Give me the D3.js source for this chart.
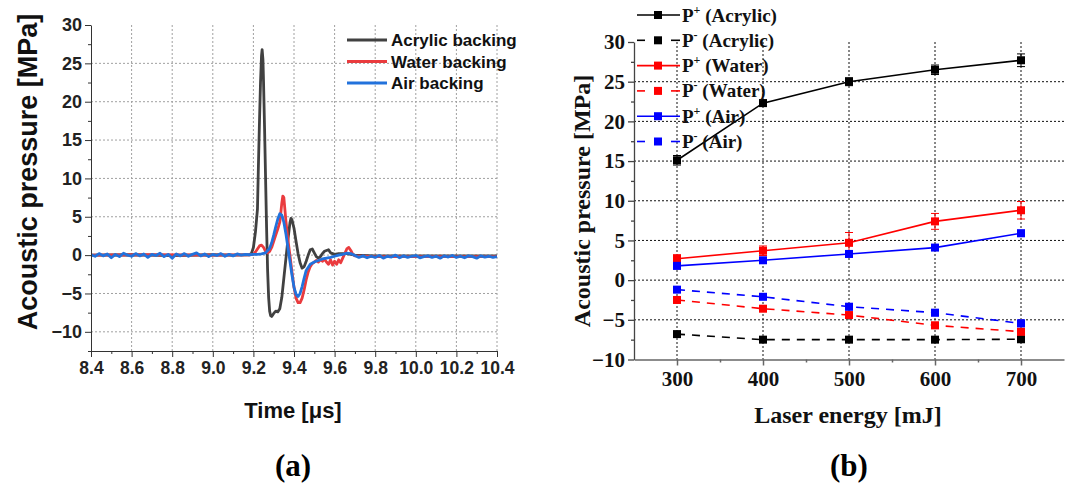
<!DOCTYPE html>
<html>
<head>
<meta charset="utf-8">
<script src="https://cdn.jsdelivr.net/npm/d3@7"></script>
<style>
  body { margin: 0; background: #fff; }
  svg { display: block; }
</style>
</head>
<body>
<svg id="fig" width="1065" height="484"></svg>
<script>
// ---------- (a) waveforms: [time (µs), pressure (MPa)] ----------
const acrylicWave = [
  [8.40, 0.0], [8.60, 0.05], [8.80, -0.05], [9.00, 0.05], [9.10, 0.0], [9.18, 0.05],
  [9.19, 0.2], [9.20, 1.0], [9.21, 3.0], [9.22, 6.0], [9.225, 12.0], [9.23, 17.5],
  [9.235, 22.5], [9.24, 26.0], [9.243, 26.8], [9.247, 25.5], [9.25, 22.5], [9.255, 16.5],
  [9.26, 10.0], [9.265, 3.5], [9.27, -2.0], [9.275, -5.5], [9.28, -7.3], [9.285, -7.9],
  [9.29, -8.0], [9.30, -7.6], [9.31, -7.3], [9.32, -7.4], [9.33, -7.0], [9.34, -5.5],
  [9.35, -3.0], [9.36, -0.5], [9.37, 2.0], [9.38, 4.2], [9.385, 4.8], [9.39, 4.6],
  [9.40, 3.5], [9.41, 1.8], [9.42, 0.2], [9.43, -1.0], [9.44, -1.7], [9.45, -1.5],
  [9.46, -0.8], [9.47, 0.0], [9.48, 0.7], [9.49, 0.8], [9.50, 0.3], [9.51, -0.2],
  [9.52, -0.4], [9.53, -0.2], [9.54, 0.2], [9.55, 0.5], [9.56, 0.6], [9.57, 0.7],
  [9.58, 0.3], [9.60, 0.1], [9.62, 0.2], [9.66, 0.2], [9.70, 0.0], [9.80, -0.1],
  [10.00, -0.1], [10.20, -0.1], [10.40, -0.1]
];

const waterWave = [
  [8.40, 0.0], [8.70, 0.05], [9.00, 0.0], [9.18, 0.05], [9.20, 0.1], [9.21, 0.4],
  [9.22, 0.8], [9.23, 1.2], [9.24, 1.3], [9.25, 1.0], [9.26, 0.5], [9.27, 0.3],
  [9.28, 0.5], [9.29, 1.0], [9.30, 1.8], [9.31, 2.6], [9.32, 3.4], [9.33, 4.3],
  [9.335, 5.5], [9.34, 6.8], [9.345, 7.7], [9.35, 7.5], [9.355, 6.0], [9.36, 4.5],
  [9.37, 2.0], [9.38, 0.0], [9.39, -2.2], [9.40, -4.2], [9.41, -5.6], [9.42, -6.2],
  [9.43, -6.2], [9.44, -5.6], [9.45, -4.5], [9.46, -3.2], [9.47, -2.2], [9.48, -1.5],
  [9.49, -1.1], [9.50, -0.9], [9.51, -0.7], [9.52, -0.9], [9.53, -0.6], [9.54, -0.8],
  [9.55, -0.5], [9.56, -0.9], [9.57, -1.2], [9.58, -0.6], [9.59, -1.3], [9.60, -0.8],
  [9.61, -1.2], [9.62, -0.6], [9.63, -1.0], [9.64, -0.4], [9.65, 0.2], [9.66, 0.8],
  [9.67, 1.0], [9.68, 0.6], [9.69, 0.1], [9.70, -0.1], [9.80, -0.2], [10.00, -0.2],
  [10.40, -0.2]
];

const airWave = [
  [8.40, 0.05], [8.42, -0.15], [8.44, 0.2], [8.46, -0.1], [8.48, 0.15], [8.50, -0.35],
  [8.52, 0.1], [8.54, -0.2], [8.56, 0.25], [8.58, 0.0], [8.60, -0.15], [8.62, 0.2],
  [8.64, -0.1], [8.66, 0.15], [8.68, -0.3], [8.70, 0.1], [8.72, -0.05], [8.74, 0.25],
  [8.76, -0.2], [8.78, 0.1], [8.80, -0.4], [8.82, 0.15], [8.84, -0.1], [8.86, 0.2],
  [8.88, -0.15], [8.90, 0.1], [8.92, 0.3], [8.94, -0.1], [8.96, 0.15], [8.98, -0.2],
  [9.00, 0.1], [9.02, -0.05], [9.04, 0.2], [9.06, -0.15], [9.08, 0.1], [9.10, -0.1],
  [9.12, 0.15], [9.14, 0.0], [9.16, 0.1], [9.18, 0.05], [9.20, 0.1], [9.22, 0.1],
  [9.24, 0.15], [9.26, 0.3], [9.28, 0.9], [9.29, 1.6], [9.30, 2.6], [9.31, 3.7],
  [9.32, 4.7], [9.33, 5.4], [9.34, 5.2], [9.35, 4.3], [9.36, 2.8], [9.37, 1.0],
  [9.38, -0.8], [9.39, -2.6], [9.40, -4.2], [9.41, -5.1], [9.42, -5.4], [9.43, -5.0],
  [9.44, -4.1], [9.45, -3.0], [9.46, -2.0], [9.48, -1.2], [9.50, -0.9], [9.52, -0.7],
  [9.54, -0.5], [9.56, -0.4], [9.58, -0.3], [9.60, -0.15], [9.62, 0.0], [9.64, 0.1],
  [9.66, 0.25], [9.68, 0.2], [9.70, -0.05], [9.72, -0.3], [9.74, -0.1], [9.76, -0.35],
  [9.78, -0.15], [9.80, -0.3], [9.82, -0.05], [9.84, -0.4], [9.86, -0.15], [9.88, -0.25],
  [9.90, 0.0], [9.92, -0.35], [9.94, -0.1], [9.96, -0.3], [9.98, -0.15], [10.00, -0.05],
  [10.02, -0.35], [10.04, -0.2], [10.06, -0.1], [10.08, -0.3], [10.10, -0.15], [10.12, -0.4],
  [10.14, -0.1], [10.16, -0.25], [10.18, -0.05], [10.20, -0.3], [10.22, -0.15], [10.24, -0.35],
  [10.26, -0.1], [10.28, -0.2], [10.30, -0.4], [10.32, -0.1], [10.34, -0.25], [10.36, -0.15],
  [10.38, -0.3], [10.40, -0.2]
];

const waveNames = ["Acrylic backing", "Water backing", "Air backing"];
const timeTicks = [8.4, 8.6, 8.8, 9.0, 9.2, 9.4, 9.6, 9.8, 10.0, 10.2, 10.4];
const pressureTicksA = [-10, -5, 0, 5, 10, 15, 20, 25, 30];

// ---------- (b) peak pressures vs laser energy ----------
const energy = [300, 400, 500, 600, 700];
const pPosAcrylic = [15.1, 22.3, 25.0, 26.5, 27.7];
const pNegAcrylic = [-6.8, -7.5, -7.5, -7.5, -7.45];
const pPosWater = [2.7, 3.7, 4.7, 7.4, 8.8];
const pNegWater = [-2.5, -3.6, -4.4, -5.7, -6.5];
const pPosAir = [1.8, 2.5, 3.3, 4.1, 5.9];
const pNegAir = [-1.2, -2.1, -3.35, -4.1, -5.45];

const errPosAcrylic = [0.6, 0.4, 0.5, 0.6, 0.8];
const errNegAcrylic = [0.3, 0.3, 0.3, 0.3, 0.4];
const errPosWater = [0.5, 0.6, 1.3, 1.0, 1.1];
const errNegWater = [0.3, 0.3, 0.3, 0.4, 0.4];
const errPosAir = [0.4, 0.3, 0.4, 0.3, 0.4];
const errNegAir = [0.3, 0.3, 0.4, 0.4, 0.4];

const energyTicks = [300, 400, 500, 600, 700];
const pressureTicksB = [-10, -5, 0, 5, 10, 15, 20, 25, 30];

const SANS = "'Liberation Sans', Arial, sans-serif";
const SERIF = "'Liberation Serif', 'Times New Roman', serif";

const svg = d3.select("#fig");

// ================= panel (a) =================
const A = { l: 91, r: 497, t: 25, b: 351 };
const xa = d3.scaleLinear().domain([8.4, 10.4]).range([A.l, A.r]);
const ya = d3.scaleLinear().domain([-12.5, 30]).range([A.b, A.t]);
const gA = svg.append("g");

// dotted grid
gA.append("g").selectAll("line").data(timeTicks.slice(1)).join("line")
  .attr("x1", d => xa(d)).attr("x2", d => xa(d))
  .attr("y1", A.t).attr("y2", A.b)
  .attr("stroke", "#a0a0a0").attr("stroke-width", 1).attr("stroke-dasharray", "2,2");
gA.append("g").selectAll("line").data(pressureTicksA.filter(d => d < 30)).join("line")
  .attr("x1", A.l).attr("x2", A.r)
  .attr("y1", d => ya(d)).attr("y2", d => ya(d))
  .attr("stroke", "#a0a0a0").attr("stroke-width", 1).attr("stroke-dasharray", "2,2");

// waveforms
const lineA = d3.line().x(d => xa(d[0])).y(d => ya(d[1]));
const waveSeries = [
  { data: acrylicWave, color: "#414141" },
  { data: waterWave, color: "#ea3b3e" },
  { data: airWave, color: "#2272dc" }
];
gA.append("g").selectAll("path").data(waveSeries).join("path")
  .attr("d", d => lineA(d.data))
  .attr("fill", "none").attr("stroke", d => d.color)
  .attr("stroke-width", 2.8).attr("stroke-linejoin", "round");

// axes
function styleAxis(g, color, width) {
  g.select(".domain").attr("stroke", color).attr("stroke-width", width);
  g.selectAll(".tick line").attr("stroke", color).attr("stroke-width", width);
}
const axA_y = gA.append("g").attr("transform", `translate(${A.l},0)`)
  .call(d3.axisLeft(ya).tickValues(pressureTicksA).tickSize(6).tickSizeOuter(0).tickPadding(3).tickFormat(d3.format("d")));
axA_y.append("g").call(d3.axisLeft(ya).tickValues(d3.range(-12.5, 30, 2.5).filter(v => v % 5 !== 0)).tickSize(3).tickFormat(""))
  .select(".domain").remove();
styleAxis(axA_y, "#333", 1);
axA_y.selectAll("text").attr("font-family", SANS).attr("font-weight", "bold").attr("font-size", 18).attr("fill", "#222");

const axA_x = gA.append("g").attr("transform", `translate(0,${A.b})`)
  .call(d3.axisBottom(xa).tickValues(timeTicks).tickSize(6).tickSizeOuter(0).tickPadding(5).tickFormat(d3.format(".1f")));
axA_x.append("g").call(d3.axisBottom(xa).tickValues(d3.range(8.5, 10.4, 0.2)).tickSize(3).tickFormat(""))
  .select(".domain").remove();
styleAxis(axA_x, "#333", 1);
axA_x.selectAll("text").attr("font-family", SANS).attr("font-weight", "bold").attr("font-size", 17.5).attr("fill", "#222");

// titles
gA.append("text").attr("transform", "translate(37,172) rotate(-90)")
  .attr("text-anchor", "middle").attr("font-family", SANS).attr("font-weight", "bold")
  .attr("font-size", 27).attr("fill", "#111").text("Acoustic pressure [MPa]");
gA.append("text").attr("x", 293).attr("y", 418).attr("text-anchor", "middle")
  .attr("font-family", SANS).attr("font-weight", "bold").attr("font-size", 22).attr("fill", "#111")
  .text("Time [\u03bcs]");
gA.append("text").attr("x", 293).attr("y", 476).attr("text-anchor", "middle")
  .attr("font-family", SERIF).attr("font-weight", "bold").attr("font-size", 31).attr("fill", "#000")
  .text("(a)");

// legend
const legA = gA.append("g").selectAll("g").data(waveSeries).join("g")
  .attr("transform", (d, i) => `translate(347,${40 + i * 21.5})`);
legA.append("line").attr("x1", 0).attr("x2", 40).attr("stroke", d => d.color).attr("stroke-width", 2.8);
legA.append("text").attr("x", 44).attr("dy", "0.36em")
  .attr("font-family", SANS).attr("font-weight", "bold").attr("font-size", 17).attr("fill", "#111")
  .text((d, i) => waveNames[i]);

// ================= panel (b) =================
const B = { l: 634, r: 1064, t: 42, b: 359.5 };
const xb = d3.scaleLinear().domain([250, 750]).range([B.l, B.r]);
const yb = d3.scaleLinear().domain([-10, 30]).range([B.b, B.t]);
const gB = svg.append("g");

gB.append("g").selectAll("line").data(energyTicks).join("line")
  .attr("x1", d => xb(d)).attr("x2", d => xb(d)).attr("y1", B.t).attr("y2", B.b)
  .attr("stroke", "#111").attr("stroke-width", 1).attr("stroke-dasharray", "2,2");
gB.append("g").selectAll("line").data(pressureTicksB.filter(d => d > -10 && d < 30)).join("line")
  .attr("x1", B.l).attr("x2", B.r).attr("y1", d => yb(d)).attr("y2", d => yb(d))
  .attr("stroke", "#111").attr("stroke-width", 1).attr("stroke-dasharray", "2,2");

const seriesB = [
  { label: "+", name: " (Acrylic)", vals: pPosAcrylic, err: errPosAcrylic, color: "#000000", dashed: false },
  { label: "-", name: " (Acrylic)", vals: pNegAcrylic, err: errNegAcrylic, color: "#000000", dashed: true },
  { label: "+", name: " (Water)", vals: pPosWater, err: errPosWater, color: "#ff0000", dashed: false },
  { label: "-", name: " (Water)", vals: pNegWater, err: errNegWater, color: "#ff0000", dashed: true },
  { label: "+", name: " (Air)", vals: pPosAir, err: errPosAir, color: "#0000ff", dashed: false },
  { label: "-", name: " (Air)", vals: pNegAir, err: errNegAir, color: "#0000ff", dashed: true }
];

const lineB = d3.line().x(d => xb(d.e)).y(d => yb(d.v));
const sG = gB.append("g").selectAll("g").data(seriesB).join("g");
sG.append("path")
  .attr("d", s => lineB(energy.map((e, i) => ({ e, v: s.vals[i] }))))
  .attr("fill", "none").attr("stroke", s => s.color).attr("stroke-width", 1.6)
  .attr("stroke-dasharray", s => s.dashed ? "8,7" : null);
// error bars and square markers
sG.each(function (s) {
  const g = d3.select(this);
  const pts = energy.map((e, i) => ({ e, v: s.vals[i], err: s.err[i] }));
  g.selectAll("line.eb").data(pts).join("line").attr("class", "eb")
    .attr("x1", d => xb(d.e)).attr("x2", d => xb(d.e))
    .attr("y1", d => yb(d.v - d.err)).attr("y2", d => yb(d.v + d.err))
    .attr("stroke", s.color).attr("stroke-width", 1);
  g.selectAll("line.cap").data(pts.flatMap(p => [p.v - p.err, p.v + p.err].map(v => ({ e: p.e, v }))))
    .join("line").attr("class", "cap")
    .attr("x1", d => xb(d.e) - 4).attr("x2", d => xb(d.e) + 4)
    .attr("y1", d => yb(d.v)).attr("y2", d => yb(d.v))
    .attr("stroke", s.color).attr("stroke-width", 1);
  g.selectAll("rect").data(pts).join("rect")
    .attr("x", d => xb(d.e) - 4).attr("y", d => yb(d.v) - 4)
    .attr("width", 8).attr("height", 8).attr("fill", s.color);
});

// axes
const axB_y = gB.append("g").attr("transform", `translate(${B.l},0)`)
  .call(d3.axisLeft(yb).tickValues(pressureTicksB).tickSize(6).tickSizeOuter(0).tickPadding(3).tickFormat(d3.format("d")));
axB_y.append("g").call(d3.axisLeft(yb).tickValues(d3.range(-7.5, 30, 5)).tickSize(3).tickFormat(""))
  .select(".domain").remove();
styleAxis(axB_y, "#444", 1.3);
axB_y.selectAll("text").attr("font-family", SERIF).attr("font-weight", "bold").attr("font-size", 21).attr("fill", "#111");

const axB_x = gB.append("g").attr("transform", `translate(0,${B.b})`)
  .call(d3.axisBottom(xb).tickValues(energyTicks).tickSize(6).tickSizeOuter(0).tickPadding(6).tickFormat(d3.format("d")));
axB_x.append("g").call(d3.axisBottom(xb).tickValues([350, 450, 550, 650]).tickSize(3).tickFormat(""))
  .select(".domain").remove();
styleAxis(axB_x, "#666", 1.5);
axB_x.selectAll("text").attr("font-family", SERIF).attr("font-weight", "bold").attr("font-size", 21).attr("fill", "#111");

gB.append("text").attr("transform", "translate(590,201) rotate(-90)")
  .attr("text-anchor", "middle").attr("font-family", SERIF).attr("font-weight", "bold")
  .attr("font-size", 24).attr("fill", "#111").text("Acoustic pressure [MPa]");
gB.append("text").attr("x", 848).attr("y", 423).attr("text-anchor", "middle")
  .attr("font-family", SERIF).attr("font-weight", "bold").attr("font-size", 24).attr("fill", "#111")
  .text("Laser energy [mJ]");
gB.append("text").attr("x", 849).attr("y", 476).attr("text-anchor", "middle")
  .attr("font-family", SERIF).attr("font-weight", "bold").attr("font-size", 31).attr("fill", "#000")
  .text("(b)");

// legend
const legB = gB.append("g").selectAll("g").data(seriesB).join("g")
  .attr("transform", (d, i) => `translate(637,${15 + i * 25.3})`);
legB.each(function (s) {
  const g = d3.select(this);
  if (s.dashed) {
    g.append("line").attr("x1", 0).attr("x2", 8).attr("stroke", s.color).attr("stroke-width", 1.6);
    g.append("line").attr("x1", 34).attr("x2", 43).attr("stroke", s.color).attr("stroke-width", 1.6);
  } else {
    g.append("line").attr("x1", 0).attr("x2", 43).attr("stroke", s.color).attr("stroke-width", 1.6);
  }
  g.append("rect").attr("x", 17).attr("y", -4).attr("width", 8).attr("height", 8).attr("fill", s.color);
  const t = g.append("text").attr("x", 45).attr("y", 6.5)
    .attr("font-family", SERIF).attr("font-weight", "bold").attr("font-size", 19).attr("fill", "#111");
  t.append("tspan").text("P");
  t.append("tspan").attr("dy", -8).attr("font-size", 12).text(s.label);
  t.append("tspan").attr("dy", 8).text(s.name);
});
</script>
</body>
</html>
